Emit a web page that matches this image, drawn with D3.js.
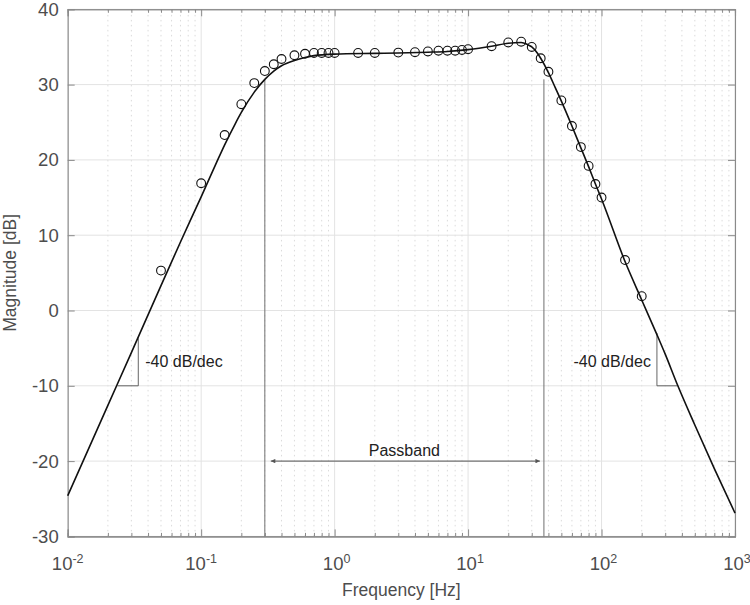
<!DOCTYPE html>
<html>
<head>
<meta charset="utf-8">
<script src="https://cdn.jsdelivr.net/npm/d3@7"></script>
<style>
  body { margin: 0; background: #fff; }
  svg { font-family: "Liberation Sans", Arial, Helvetica, sans-serif; }
</style>
</head>
<body>
<div id="chart"></div>
<script>
// measured points (circles)
const pointFreq = [0.05, 0.1, 0.15, 0.2, 0.25, 0.3, 0.35, 0.4, 0.5, 0.6, 0.7, 0.8, 0.9, 1,
  1.5, 2, 3, 4, 5, 6, 7, 8, 9, 10, 15, 20, 25, 30, 35, 40, 50, 60, 70, 80, 90, 100, 150, 200]
const pointMag = [5.3, 16.9, 23.3, 27.4, 30.2, 31.8, 32.7, 33.4, 33.9, 34.1, 34.2, 34.2, 34.2, 34.2,
  34.2, 34.2, 34.25, 34.3, 34.4, 34.5, 34.5, 34.5, 34.6, 34.7, 35.1, 35.6, 35.7, 35.0, 33.5, 31.7,
  27.9, 24.5, 21.7, 19.2, 16.8, 15.0, 6.7, 1.9]

// fitted model curve
const curveFreq = [0.01, 0.02, 0.03, 0.05, 0.07, 0.1, 0.13, 0.15, 0.18, 0.2, 0.25, 0.3, 0.35, 0.4,
  0.5, 0.6, 0.7, 1, 2, 3, 5, 7, 10, 15, 20, 25, 28, 30, 33, 35, 40, 45, 50, 60, 70, 80, 90, 100,
  150, 200, 260, 300, 371, 500, 700, 1000]
const curveMag = [-24.6, -12.6, -5.6, 3.3, 9.1, 15.1, 19.6, 22.0, 24.8, 26.3, 29.0, 30.7, 31.8, 32.5,
  33.2, 33.6, 33.85, 34.05, 34.15, 34.2, 34.3, 34.4, 34.65, 35.1, 35.5, 35.6, 35.3, 35.0, 34.2, 33.5,
  31.6, 29.6, 27.8, 24.5, 21.6, 19.1, 16.8, 14.8, 6.5, 1.4, -3.2, -5.8, -9.9, -15.2, -21.0, -26.9]

const xTickExp = [-2, -1, 0, 1, 2, 3]
const yTicks = [-30, -20, -10, 0, 10, 20, 30, 40]

// -3 dB cutoff markers and passband
const cutoffFreq = [0.3, 37]
const cutoffMag = 30.7
const passbandMag = -20
// slope triangles [f at corner, f at right end, top dB, bottom dB]
const slopeLeft = [0.0236, 0.0338, -3.7, -10]
const slopeRight = [260, 371, -3.0, -10]

const width = 750, height = 605
const margin = {left: 67.7, right: 15, top: 9.3, bottom: 68.6}

const svg = d3.select('#chart').append('svg')
  .attr('width', width).attr('height', height)

const x = d3.scaleLog().domain([1e-2, 1e3]).range([margin.left, width - margin.right])
const y = d3.scaleLinear().domain([-30, 40]).range([height - margin.bottom, margin.top])

const axisColor = '#8a8a8a'
const labelColor = '#4d4d4d'

// minor grid
const minors = []
for (let e = -2; e < 3; e++) {
  for (let k = 2; k <= 9; k++) minors.push(k * Math.pow(10, e))
}
svg.append('g').selectAll('line').data(minors).enter().append('line')
  .attr('x1', d => x(d)).attr('x2', d => x(d))
  .attr('y1', y(-30)).attr('y2', y(40))
  .attr('stroke', '#d2d2d2').attr('stroke-width', 0.8).attr('stroke-dasharray', '1.5,3.5')

// major grid
svg.append('g').selectAll('line').data(xTickExp).enter().append('line')
  .attr('x1', d => x(Math.pow(10, d))).attr('x2', d => x(Math.pow(10, d)))
  .attr('y1', y(-30)).attr('y2', y(40))
  .attr('stroke', '#e3e3e3').attr('stroke-width', 1)
svg.append('g').selectAll('line').data(yTicks).enter().append('line')
  .attr('x1', x(1e-2)).attr('x2', x(1e3))
  .attr('y1', d => y(d)).attr('y2', d => y(d))
  .attr('stroke', '#e3e3e3').attr('stroke-width', 1)

// axes (ticks inward)
const xMajor = xTickExp.map(e => Math.pow(10, e))
const bottomAxis = d3.axisBottom(x).tickValues(xMajor).tickSize(-7).tickFormat('')
const topAxis = d3.axisTop(x).tickValues(xMajor).tickSize(-7).tickFormat('')
const bottomMinor = d3.axisBottom(x).tickValues(minors).tickSize(-3.5).tickFormat('')
const topMinor = d3.axisTop(x).tickValues(minors).tickSize(-3.5).tickFormat('')
const leftAxis = d3.axisLeft(y).tickValues(yTicks).tickSize(-7).tickFormat('')
const rightAxis = d3.axisRight(y).tickValues(yTicks).tickSize(-7).tickFormat('')

const styleAxis = g => {
  g.selectAll('path, line').attr('stroke', axisColor).attr('stroke-width', 1)
  g.select('.domain').attr('stroke-width', 1.1)
}
svg.append('g').attr('transform', `translate(0,${y(-30)})`).call(bottomAxis).call(styleAxis)
svg.append('g').attr('transform', `translate(0,${y(-30)})`).call(bottomMinor).call(styleAxis)
svg.append('g').attr('transform', `translate(0,${y(40)})`).call(topAxis).call(styleAxis)
svg.append('g').attr('transform', `translate(0,${y(40)})`).call(topMinor).call(styleAxis)
svg.append('g').attr('transform', `translate(${x(1e-2)},0)`).call(leftAxis).call(styleAxis)
svg.append('g').attr('transform', `translate(${x(1e3)},0)`).call(rightAxis).call(styleAxis)

// y tick labels
svg.append('g').selectAll('text').data(yTicks).enter().append('text')
  .attr('x', x(1e-2) - 9).attr('y', d => y(d)).attr('dy', '0.35em')
  .attr('text-anchor', 'end').attr('font-size', 18.5).attr('fill', labelColor)
  .text(d => d)

// x tick labels 10^n
const xl = svg.append('g').selectAll('text').data(xTickExp).enter().append('text')
  .attr('x', d => x(Math.pow(10, d)) + (d < 0 ? 0 : 2)).attr('y', 570)
  .attr('text-anchor', 'middle').attr('font-size', 18.5).attr('fill', labelColor)
xl.append('tspan').text('10')
xl.append('tspan').attr('dy', -7).attr('font-size', 12.5).text(d => d)

// axis titles
svg.append('text').attr('x', x(Math.pow(10, 0.5))).attr('y', 596)
  .attr('text-anchor', 'middle').attr('font-size', 17.5).attr('fill', labelColor)
  .text('Frequency [Hz]')
svg.append('text').attr('transform', `translate(16,${y(5)}) rotate(-90)`)
  .attr('text-anchor', 'middle').attr('font-size', 17.5).attr('fill', labelColor)
  .text('Magnitude [dB]')

// cutoff lines
svg.append('g').selectAll('line').data(cutoffFreq).enter().append('line')
  .attr('x1', d => x(d)).attr('x2', d => x(d))
  .attr('y1', y(cutoffMag)).attr('y2', y(-30))
  .attr('stroke', '#707070').attr('stroke-width', 1)

// passband arrow
const defs = svg.append('defs')
defs.append('marker').attr('id', 'ah').attr('viewBox', '0 0 10 10')
  .attr('refX', 10).attr('refY', 5).attr('markerWidth', 7).attr('markerHeight', 4.5)
  .attr('markerUnits', 'userSpaceOnUse').attr('orient', 'auto-start-reverse')
  .append('path').attr('d', 'M0,0 L10,5 L0,10 z').attr('fill', '#555')
svg.append('line')
  .attr('x1', x(cutoffFreq[0]) + 6).attr('x2', x(cutoffFreq[1]) - 4)
  .attr('y1', y(passbandMag)).attr('y2', y(passbandMag))
  .attr('stroke', '#555').attr('stroke-width', 1)
  .attr('marker-start', 'url(#ah)').attr('marker-end', 'url(#ah)')
svg.append('text')
  .attr('x', x(Math.sqrt(cutoffFreq[0] * cutoffFreq[1]))).attr('y', y(passbandMag) - 5)
  .attr('text-anchor', 'middle').attr('font-size', 16).attr('fill', '#222')
  .text('Passband')

// slope triangles
svg.append('path')
  .attr('d', `M${x(slopeLeft[0])},${y(slopeLeft[3])} L${x(slopeLeft[1])},${y(slopeLeft[3])} L${x(slopeLeft[1])},${y(slopeLeft[2])}`)
  .attr('fill', 'none').attr('stroke', '#555').attr('stroke-width', 0.9)
svg.append('path')
  .attr('d', `M${x(slopeRight[0])},${y(slopeRight[2])} L${x(slopeRight[0])},${y(slopeRight[3])} L${x(slopeRight[1])},${y(slopeRight[3])}`)
  .attr('fill', 'none').attr('stroke', '#555').attr('stroke-width', 0.9)
svg.append('text').attr('x', x(slopeLeft[1]) + 7).attr('y', 367)
  .attr('font-size', 16).attr('fill', '#222').text('-40 dB/dec')
svg.append('text').attr('x', x(slopeRight[0]) - 6).attr('y', 367)
  .attr('text-anchor', 'end').attr('font-size', 16).attr('fill', '#222').text('-40 dB/dec')

// model curve
const line = d3.line()
  .x(d => x(d[0])).y(d => y(d[1]))
  .curve(d3.curveMonotoneX)
svg.append('path').datum(d3.zip(curveFreq, curveMag))
  .attr('d', line).attr('fill', 'none')
  .attr('stroke', '#111').attr('stroke-width', 1.6)

// data circles
svg.append('g').selectAll('circle').data(d3.zip(pointFreq, pointMag)).enter().append('circle')
  .attr('cx', d => x(d[0])).attr('cy', d => y(d[1])).attr('r', 4.4)
  .attr('fill', 'none').attr('stroke', '#111').attr('stroke-width', 1.1)
</script>
</body>
</html>
